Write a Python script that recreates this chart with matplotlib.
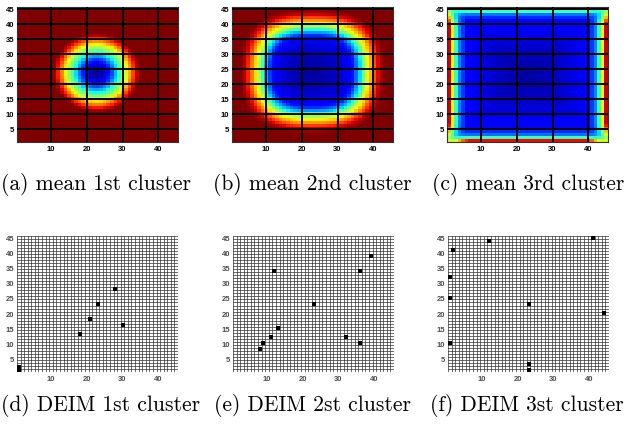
import numpy as np
import matplotlib
matplotlib.use("Agg")
import matplotlib.pyplot as plt

N = 45
cells = np.arange(1, N + 1)

# mean fields, radial profiles (jet scale 0..1)
mean1_center = [22.7, 23.6]
mean1_scale = [1.0, 1.08]
mean1_r = [0, 2, 4, 6, 7.3, 8.6, 9.6, 10.6, 12.0]
mean1_v = [0.0, 0.06, 0.17, 0.37, 0.5, 0.63, 0.75, 0.87, 1.0]

mean2_center = [22.8, 24.0]
mean2_scale = [1.0, 1.03]
mean2_power = 2.7
mean2_r = [0, 5, 9, 11.5, 13.5, 15, 16.3, 17.5, 18.7, 20]
mean2_v = [0.02, 0.05, 0.09, 0.15, 0.37, 0.6, 0.72, 0.85, 0.95, 1.0]

# 3rd cluster: dark interior, bright rim
mean3_center = [23, 23]
mean3_r = [0, 8, 14, 18, 22]
mean3_v = [0.03, 0.06, 0.1, 0.13, 0.15]
mean3_rim_lr = [0.78, 0.5, 0.27, 0.12, 0.05]   # by distance from left/right edge
mean3_rim_bt = [0.75, 0.28, 0.1, 0.03]         # by distance from bottom/top edge
mean3_taper = [0.3, 0.4, 0.55, 0.7, 0.85, 0.95, 1.0]  # along an edge, from its ends

# DEIM points (x, y)
deim1_x = [18, 21, 23, 28, 30, 1, 1]
deim1_y = [13, 18, 23, 28, 16, 1, 2]
deim2_x = [12, 13, 11, 9, 8, 23, 32, 36, 36, 39]
deim2_y = [34, 15, 12, 10, 8, 23, 12, 34, 10, 39]
deim3_x = [12, 2, 1, 1, 1, 23, 23, 23, 41, 44]
deim3_y = [44, 41, 32, 25, 10, 23, 3, 1, 45, 20]

captions = ["(a) mean 1st cluster", "(b) mean 2nd cluster", "(c) mean 3rd cluster",
            "(d) DEIM 1st cluster", "(e) DEIM 2st cluster", "(f) DEIM 3st cluster"]

X, Y = np.meshgrid(cells, cells)

d1 = np.hypot((X - mean1_center[0]) / mean1_scale[0], (Y - mean1_center[1]) / mean1_scale[1])
field1 = np.interp(d1, mean1_r, mean1_v)

dx = np.abs(X - mean2_center[0]) / mean2_scale[0]
dy = np.abs(Y - mean2_center[1]) / mean2_scale[1]
d2 = (dx ** mean2_power + dy ** mean2_power) ** (1.0 / mean2_power)
field2 = np.interp(d2, mean2_r, mean2_v)

d3 = np.maximum(np.abs(X - mean3_center[0]), np.abs(Y - mean3_center[1]))
field3 = np.interp(d3, mean3_r, mean3_v)
edge_x = np.minimum(X - 1, N - X)
edge_y = np.minimum(Y - 1, N - Y)
rim_lr = np.array(mean3_rim_lr + [0] * N)[edge_x]
rim_bt = np.array(mean3_rim_bt + [0] * N)[edge_y]
taper = np.array(mean3_taper + [1.0] * N)
field3 = field3 + rim_lr * taper[edge_y] + rim_bt * taper[edge_x]
field3 = np.clip(field3, 0, 1)

fig = plt.figure(figsize=(6.25, 4.27), dpi=100)
W, H = 625.0, 427.0
top_left = [17, 232, 447]
bot_left = [17, 233, 448]
aw = 161 / W

tick_font = dict(fontsize=5.5, fontweight="bold", family="Liberation Sans")

for i, field in enumerate([field1, field2, field3]):
    ax = fig.add_axes([top_left[i] / W, 1 - 143 / H, aw, 135 / H])
    ax.imshow(field, cmap="jet", vmin=0, vmax=1, origin="lower",
              extent=[0.5, N + 0.5, 0.5, N + 0.5], aspect="auto", interpolation="nearest")
    ax.set_xticks([10, 20, 30, 40])
    ax.set_yticks(range(5, 46, 5))
    ax.grid(True, color="black", linewidth=1.4)
    ax.set_axisbelow(False)
    ax.tick_params(length=0, pad=2)
    for lab in ax.get_xticklabels() + ax.get_yticklabels():
        lab.set(**tick_font)
    for s in ax.spines.values():
        s.set_linewidth(0.8)
        s.set_color("0.2")
    ax.set_xlim(0.5, N + 0.5)
    ax.set_ylim(0.5, N + 0.5)

edges = np.arange(0.5, N + 1.5)
for i, (px, py) in enumerate([(deim1_x, deim1_y), (deim2_x, deim2_y), (deim3_x, deim3_y)]):
    ax = fig.add_axes([bot_left[i] / W, 1 - 373 / H, aw, 136 / H])
    for e in edges:
        ax.axvline(e, color="0.2", linewidth=0.5)
        ax.axhline(e, color="0.2", linewidth=0.5)
    ax.plot(px, py, "s", color="black", markersize=3.3, markeredgewidth=0)
    ax.set_xticks([10, 20, 30, 40])
    ax.set_yticks(range(5, 46, 5))
    ax.tick_params(length=0, pad=2)
    for lab in ax.get_xticklabels() + ax.get_yticklabels():
        lab.set(**tick_font)
        lab.set_color("0.3")
    for s in ax.spines.values():
        s.set_visible(False)
    ax.set_xlim(0.5, N + 0.5)
    ax.set_ylim(0.5, N + 0.5)

# captions: outer columns pinned to the page edges so nothing is clipped
for i, cap in enumerate(captions):
    row, col = divmod(i, 3)
    cy = 1 - (184 if row == 0 else 406) / H
    if col == 0:
        cx, ha = 1 / W, "left"
    elif col == 2:
        cx, ha = 624 / W, "right"
    else:
        cx, ha = (top_left[1] + 80.5) / W, "center"
    fig.text(cx, cy, cap, ha=ha, va="center", fontsize=15.5, family="cmr10")

fig.savefig("out.png", dpi=100)
